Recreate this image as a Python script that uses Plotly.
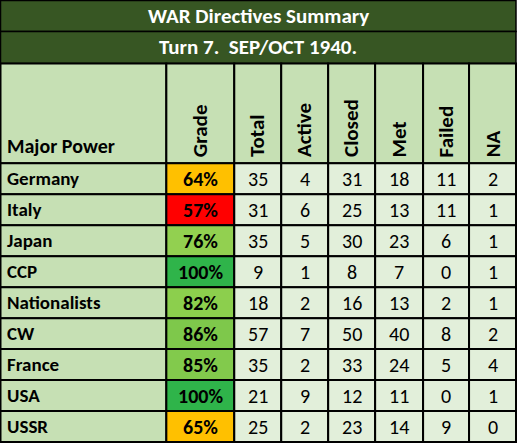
import plotly.graph_objects as go

powers = ["Germany", "Italy", "Japan", "CCP", "Nationalists", "CW", "France", "USA", "USSR"]
grade = [64, 57, 76, 100, 82, 86, 85, 100, 65]
total = [35, 31, 35, 9, 18, 57, 35, 21, 25]
active = [4, 6, 5, 1, 2, 7, 2, 9, 2]
closed = [31, 25, 30, 8, 16, 50, 33, 12, 23]
met = [18, 13, 23, 7, 13, 40, 24, 11, 14]
failed = [11, 11, 6, 0, 2, 8, 5, 0, 9]
na = [2, 1, 1, 1, 1, 2, 4, 1, 0]
headers = ["Major Power", "Grade", "Total", "Active", "Closed", "Met", "Failed", "NA"]
grade_colors = ["#ffc000", "#ff0000", "#92d050", "#2fb44a", "#8ccf4d", "#7ec84b", "#82ca4c", "#2fb44a", "#ffc000"]

col_edges = [0, 166, 234, 281, 328, 375, 423, 469, 516]
title_h, sub_h, head_h, row_h = 31, 32, 100, 31
top_data = title_h + sub_h + head_h

FONT = "Carlito, Liberation Sans Narrow, Arial Narrow, Open Sans, sans-serif"
DARK = "#375623"
HEAD = "#c6e0b4"
CELL = "#e2efda"

fig = go.Figure()
shapes, ann = [], []

def cell(x0, y0, x1, y1, fill, lw=2):
    shapes.append(dict(type="rect", x0=x0, x1=x1, y0=y0, y1=y1, fillcolor=fill,
                       line=dict(color="black", width=lw), layer="below"))

cell(0, 0, 516, title_h, DARK, 1.5)
cell(0, title_h, 516, title_h + sub_h, DARK, 1.5)
ann.append(dict(x=258, y=title_h / 2, text="<b>WAR Directives Summary</b>", showarrow=False,
                font=dict(size=21, color="white", family=FONT)))
ann.append(dict(x=258, y=title_h + sub_h / 2, text="<b>Turn 7.  SEP/OCT 1940.</b>", showarrow=False,
                font=dict(size=21, color="white", family=FONT)))

hy0 = title_h + sub_h
for i, h in enumerate(headers):
    x0, x1 = col_edges[i], col_edges[i + 1]
    cell(x0, hy0, x1, top_data, HEAD)
    if i == 0:
        ann.append(dict(x=5, y=top_data - 3, text="<b>" + h + "</b>", showarrow=False,
                        xanchor="left", yanchor="bottom", font=dict(size=20, color="black", family=FONT)))
    else:
        ann.append(dict(x=(x0 + x1) / 2, y=top_data - 4, text="<b>" + h + "</b>", showarrow=False,
                        textangle=-90, yanchor="bottom", font=dict(size=21, color="black", family=FONT)))

cols = [total, active, closed, met, failed, na]
for r, p in enumerate(powers):
    y0 = top_data + r * row_h
    y1 = y0 + row_h
    yc = (y0 + y1) / 2
    cell(col_edges[0], y0, col_edges[1], y1, HEAD)
    ann.append(dict(x=5, y=yc, text="<b>" + p + "</b>", showarrow=False, xanchor="left",
                    font=dict(size=19, color="black", family=FONT)))
    cell(col_edges[1], y0, col_edges[2], y1, grade_colors[r])
    ann.append(dict(x=(col_edges[1] + col_edges[2]) / 2, y=yc, text="<b>%d%%</b>" % grade[r],
                    showarrow=False, font=dict(size=20, color="black", family=FONT)))
    for c, vals in enumerate(cols):
        x0, x1 = col_edges[c + 2], col_edges[c + 3]
        cell(x0, y0, x1, y1, CELL)
        ann.append(dict(x=(x0 + x1) / 2, y=yc, text=str(vals[r]), showarrow=False,
                        font=dict(size=20, color="black", family=FONT)))

fig.update_layout(
    width=517, height=444, margin=dict(l=0, r=0, t=0, b=0),
    paper_bgcolor="white", plot_bgcolor="white", showlegend=False,
    shapes=shapes, annotations=ann,
    xaxis=dict(range=[-0.5, 517], visible=False, fixedrange=True),
    yaxis=dict(range=[444, -0.5], visible=False, fixedrange=True),
)
fig.write_html("out.html", config={"displayModeBar": False},
               post_script="document.body.style.margin='0';document.body.style.overflow='hidden';")
